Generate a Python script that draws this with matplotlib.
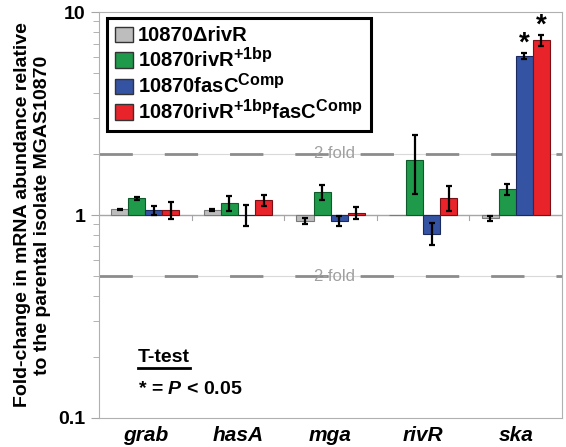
import matplotlib
matplotlib.use('Agg')
import matplotlib.pyplot as plt
import matplotlib._mathtext as mathtext_mod
from matplotlib.patches import Patch
import numpy as np

plt.rcParams['font.family'] = ['Liberation Sans', 'DejaVu Sans']
plt.rcParams['mathtext.fontset'] = 'custom'
plt.rcParams['mathtext.rm'] = 'Liberation Sans:bold'
plt.rcParams['mathtext.bf'] = 'Liberation Sans:bold'
plt.rcParams['mathtext.it'] = 'Liberation Sans:bold:italic'
# superscripts in the legend are a bit larger than mathtext's default
if hasattr(mathtext_mod, 'SHRINK_FACTOR'):
    mathtext_mod.SHRINK_FACTOR = 0.8

genes = ['grab', 'hasA', 'mga', 'rivR', 'ska']
strains = ['10870\u0394rivR',
           '10870rivR$^{\\mathbf{+1bp}}$',
           '10870fasC$^{\\mathbf{Comp}}$',
           '10870rivR$^{\\mathbf{+1bp}}$fasC$^{\\mathbf{Comp}}$']

# fold change per strain, one value per gene
delta_rivR = [1.065, 1.06, 0.937, 1.0, 0.963]
rivR_1bp = [1.21, 1.146, 1.298, 1.87, 1.339]
fasC_comp = [1.055, 1.0, 0.937, 0.81, 6.07]
rivR_1bp_fasC = [1.055, 1.185, 1.026, 1.217, 7.27]

delta_rivR_err = [0.01, 0.01, 0.035, 0.0, 0.03]
rivR_1bp_err = [0.02, 0.095, 0.11, 0.6, 0.09]
fasC_comp_err = [0.05, 0.115, 0.055, 0.1, 0.23]
rivR_1bp_fasC_err = [0.10, 0.075, 0.07, 0.17, 0.47]

fasC_comp_sig = [False, False, False, False, True]
rivR_1bp_fasC_sig = [False, False, False, False, True]

values = [delta_rivR, rivR_1bp, fasC_comp, rivR_1bp_fasC]
errors = [delta_rivR_err, rivR_1bp_err, fasC_comp_err, rivR_1bp_fasC_err]
signif = [[False] * 5, [False] * 5, fasC_comp_sig, rivR_1bp_fasC_sig]
colors = ['#bdbdbd', '#1f9a4a', '#3553a3', '#e8232a']
edges = ['#7a7a7a', '#0e5a2a', '#1a2a5e', '#7a1015']

fig = plt.figure(figsize=(5.66, 4.47), dpi=100)
ax = fig.add_axes([0.175, 0.065, 0.818, 0.908])
ax.set_yscale('log')
ax.set_ylim(0.1, 10)
ax.set_xlim(-0.5, 4.5)

x = np.arange(len(genes))
w = 0.184

# reference lines
for lev in [2, 0.5]:
    ax.axhline(lev, color='#d9d9d9', lw=0.8, zorder=0)
    ax.axhline(lev, color='#8c8c8c', lw=2, dashes=(12, 11.5), zorder=1)
    ax.text(2.04, lev, '2-fold', color='#a0a0a0', fontsize=12,
            ha='center', va='center', zorder=2)
ax.axhline(1, color='#a6a6a6', lw=1, zorder=1)
for b in np.arange(0.5, 4.5, 1):
    ax.plot([b, b], [1, 0.945], color='#a6a6a6', lw=0.8, zorder=1)

for i in range(4):
    xs = x + (i - 1.5) * w
    v = np.array(values[i])
    e = np.array(errors[i])
    ax.bar(xs, v - 1, bottom=1, width=w, color=colors[i],
           edgecolor=edges[i], linewidth=0.8, zorder=3)
    m = e > 0
    ax.errorbar(xs[m], v[m], yerr=e[m], fmt='none', ecolor='black',
                elinewidth=1.6, capsize=2.5, capthick=1.6, zorder=4)
    for xx, vv, ee, s in zip(xs, v, e, signif[i]):
        if s:
            ax.annotate('*', (xx, vv + ee), xytext=(0, -3),
                        textcoords='offset points', ha='center',
                        va='bottom', fontsize=20, fontweight='bold')

ax.set_xticks(x)
ax.set_xticklabels(genes, fontsize=15, fontweight='bold', style='italic')
ax.tick_params(axis='x', length=0, pad=6)
ax.set_yticks([0.1, 1, 10])
ax.set_yticklabels(['0.1', '1', '10'], fontsize=14, fontweight='bold')
ax.tick_params(axis='y', which='major', length=6, color='#a6a6a6', pad=4)
ax.tick_params(axis='y', which='minor', length=4, color='#a6a6a6')
for sp in ax.spines.values():
    sp.set_color('#b0b0b0')
    sp.set_linewidth(0.8)

ax.set_ylabel('Fold-change in mRNA abundance relative\n'
              'to the parental isolate MGAS10870',
              fontsize=14, fontweight='bold', labelpad=5)

handles = [Patch(facecolor=c, edgecolor='#333333', linewidth=1) for c in colors]
leg = ax.legend(handles, strains, loc='upper left',
                bbox_to_anchor=(0.017, 0.985), borderaxespad=0,
                prop={'size': 14.5, 'weight': 'bold'}, fancybox=False,
                edgecolor='black', framealpha=1, handlelength=0.9,
                handleheight=0.8, handletextpad=0.25, labelspacing=0.1,
                borderpad=0.4)
leg.get_frame().set_linewidth(2.2)

t = ax.text(0.084, 0.150, 'T-test', transform=ax.transAxes, fontsize=14,
            fontweight='bold', va='center', ha='left')
ax.text(0.084, 0.070, '* = $\\mathit{P}$ < 0.05', transform=ax.transAxes,
        fontsize=14, fontweight='bold', va='center', ha='left')

# underline the T-test heading
fig.canvas.draw()
bb = t.get_window_extent().transformed(ax.transAxes.inverted())
ax.plot([bb.x0, bb.x1], [bb.y0 - 0.005, bb.y0 - 0.005], color='black',
        lw=2, transform=ax.transAxes, clip_on=False)

fig.savefig('out.png', dpi=100)
